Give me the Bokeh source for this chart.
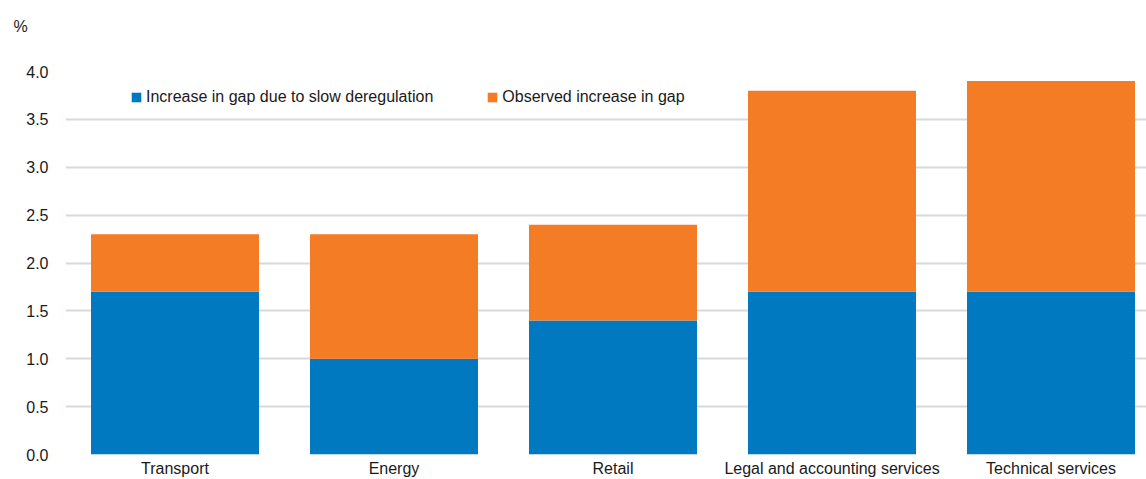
from bokeh.plotting import figure
from bokeh.models import ColumnDataSource, FixedTicker, Legend, LegendItem, Range1d
from bokeh.embed import file_html
from bokeh.resources import INLINE

# Sectors and gap increases (percentage points)
sectors = ["Transport", "Energy", "Retail", "Legal and accounting services", "Technical services"]
deregulation_gap = [1.7, 1.0, 1.4, 1.7, 1.7]
observed_total = [2.3, 2.3, 2.4, 3.8, 3.9]
y_ticks = [0.0, 0.5, 1.0, 1.5, 2.0, 2.5, 3.0, 3.5, 4.0]

BLUE = "#0079c1"
ORANGE = "#f47c24"
TEXT = "#1a1a1a"
FONT = "Liberation Sans"
FSIZE = "16px"

xs = list(range(len(sectors)))

src = ColumnDataSource(dict(
    x=xs,
    blue_top=deregulation_gap,
    orange_bottom=deregulation_gap,
    orange_top=observed_total,
))

W, H = 1146, 479
left, top_px = 65, 70
frame_w = W - left
cat_px = 219.0

p = figure(width=W, height=H, output_backend="svg", toolbar_location=None,
           x_range=Range1d(-0.5, -0.5 + frame_w / cat_px),
           y_range=Range1d(0, 4.0),
           min_border_left=left, min_border_right=0,
           min_border_top=top_px, min_border_bottom=0)
p.outline_line_color = None
p.background_fill_color = "white"
p.border_fill_color = "white"

bw = 168 / cat_px
r_blue = p.vbar(x="x", bottom=0, top="blue_top", width=bw, source=src,
                fill_color=BLUE, line_color=None)
r_orange = p.vbar(x="x", bottom="orange_bottom", top="orange_top", width=bw, source=src,
                  fill_color=ORANGE, line_color=None)

# unit marker above the value axis (blank second line lifts it higher)
p.title.text = "%\n\u00a0"
p.title.align = "left"
p.title.vertical_align = "top"
p.title.offset = -52
p.title.standoff = 35
p.title.text_font = FONT
p.title.text_font_size = FSIZE
p.title.text_font_style = "normal"
p.title.text_color = TEXT

# axes
p.xaxis.ticker = FixedTicker(ticks=xs)
p.xaxis.major_label_overrides = {i: s for i, s in enumerate(sectors)}
p.yaxis.ticker = FixedTicker(ticks=y_ticks)
p.yaxis.major_label_overrides = {t: f"{t:.1f}" for t in y_ticks}
for ax in (p.xaxis[0], p.yaxis[0]):
    ax.axis_line_color = None
    ax.major_tick_line_color = None
    ax.minor_tick_line_color = None
    ax.major_tick_out = 0
    ax.major_tick_in = 0
    ax.major_label_text_font = FONT
    ax.major_label_text_font_size = FSIZE
    ax.major_label_text_color = TEXT
p.xaxis.major_label_standoff = 5
p.yaxis.major_label_standoff = 17

p.xgrid.grid_line_color = None
p.ygrid.ticker = FixedTicker(ticks=y_ticks)
p.ygrid.grid_line_color = "#d9d9d9"
p.ygrid.grid_line_width = 2
p.ygrid.level = "underlay"

legend = Legend(items=[
    LegendItem(label="Increase in gap due to slow deregulation", renderers=[r_blue]),
    LegendItem(label="Observed increase in gap", renderers=[r_orange]),
], orientation="horizontal", location=(65, 348))
legend.label_text_font = FONT
legend.label_text_font_size = FSIZE
legend.label_text_color = TEXT
legend.glyph_width = 12
legend.glyph_height = 12
legend.label_standoff = 4
legend.spacing = 53
legend.border_line_color = None
legend.background_fill_alpha = 0
legend.padding = 0
legend.margin = 0
p.add_layout(legend)

open("out.html", "w").write(file_html(p, INLINE))
